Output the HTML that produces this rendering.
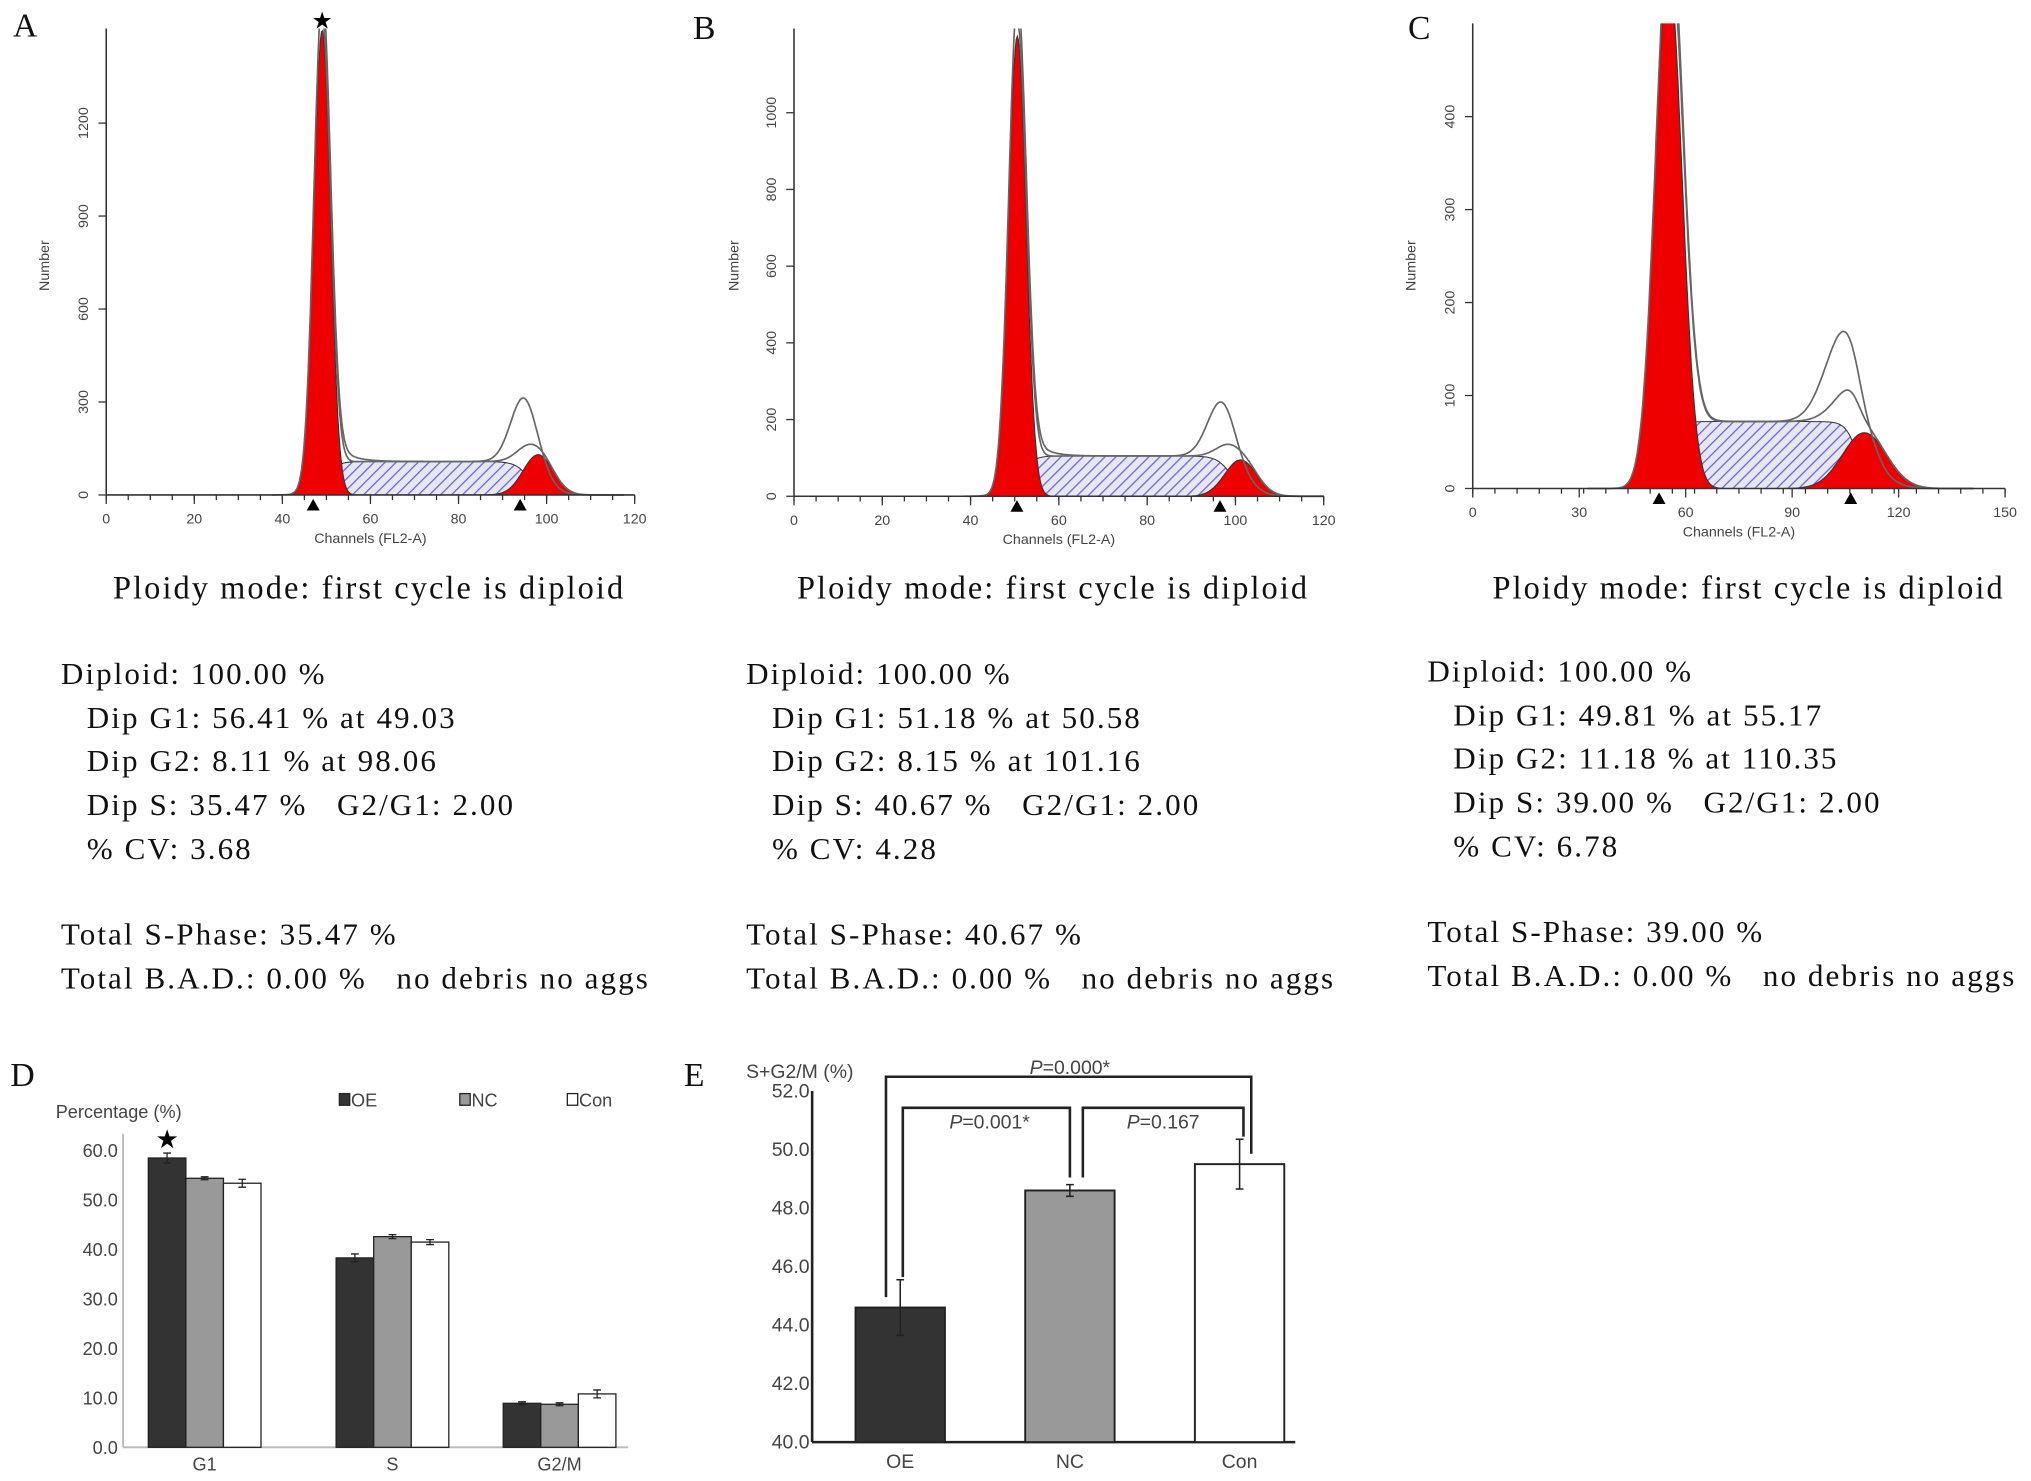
<!DOCTYPE html>
<html><head><meta charset="utf-8"><style>
html,body{margin:0;padding:0;background:#fff;}
svg{display:block;}
.ax{font-family:"Liberation Sans",sans-serif;fill:#444;}
.sr{font-family:"Liberation Serif",serif;fill:#111;}
.st{white-space:pre;letter-spacing:1.6px;}
</style></head><body>
<svg id="fig" width="2031" height="1481" viewBox="0 0 1568 1143" preserveAspectRatio="none" xmlns="http://www.w3.org/2000/svg">
<defs>
<pattern id="hatch" patternUnits="userSpaceOnUse" width="6" height="6" patternTransform="rotate(45)">
<rect width="6" height="6" fill="#e6e6f6"/><line x1="0" y1="0" x2="0" y2="6" stroke="#6a6ac8" stroke-width="2"/>
</pattern>
</defs>
<g id="root"></g>
</svg>
<script>
// ---- flow histogram fit parameters (panels A,B,C) ----
const panelIds = ['A','B','C'];
const g1Mean = [49.03, 50.58, 55.17];
const g1Height = [1500, 1200, 560];
const g1Sd = [1.9, 2.0, 3.8];
const g2Mean = [98.06, 101.16, 110.35];
const g2Height = [130, 95, 60];
const g2Sd = [3.4, 3.6, 6.2];
const sLevel = [108, 105, 72];
const rawG2Height = [280, 210, 135];
const rawG2Mean = [95, 97, 105];
const markerPos = [[47, 94], [50.5, 96.5], [52.5, 106.5]];
const yTicksABC = [[0,300,600,900,1200],[0,200,400,600,800,1000],[0,100,200,300,400]];
const xTicksABC = [[0,20,40,60,80,100,120],[0,20,40,60,80,100,120],[0,30,60,90,120,150]];
const statLines = [
 ['Diploid: 100.00 %','Dip G1: 56.41 % at 49.03','Dip G2: 8.11 % at 98.06','Dip S: 35.47 %   G2/G1: 2.00','% CV: 3.68','Total S-Phase: 35.47 %','Total B.A.D.: 0.00 %   no debris no aggs'],
 ['Diploid: 100.00 %','Dip G1: 51.18 % at 50.58','Dip G2: 8.15 % at 101.16','Dip S: 40.67 %   G2/G1: 2.00','% CV: 4.28','Total S-Phase: 40.67 %','Total B.A.D.: 0.00 %   no debris no aggs'],
 ['Diploid: 100.00 %','Dip G1: 49.81 % at 55.17','Dip G2: 11.18 % at 110.35','Dip S: 39.00 %   G2/G1: 2.00','% CV: 6.78','Total S-Phase: 39.00 %','Total B.A.D.: 0.00 %   no debris no aggs']
];
// ---- panel D ----
const dCategories = ['G1','S','G2/M'];
const dSeries = ['OE','NC','Con'];
const dOE = [58.5, 38.3, 8.9];
const dNC = [54.4, 42.6, 8.7];
const dCon = [53.4, 41.5, 10.8];
const dErrOE = [1.0, 0.8, 0.3];
const dErrNC = [0.3, 0.4, 0.3];
const dErrCon = [0.8, 0.5, 0.8];
const dTicks = [0,10,20,30,40,50,60];
// ---- panel E ----
const eCategories = ['OE','NC','Con'];
const eValues = [44.6, 48.6, 49.5];
const eErrors = [0.95, 0.2, 0.85];
const eTicks = [40,42,44,46,48,50,52];

const NS='http://www.w3.org/2000/svg';
const root=document.getElementById('root');
function mk(tag,attrs,parent,txt){const e=document.createElementNS(NS,tag);for(const k in attrs)e.setAttribute(k,attrs[k]);if(txt!==undefined)e.textContent=txt;(parent||root).appendChild(e);return e;}
const gauss=(v,m,h,s)=>h*Math.exp(-0.5*((v-m)/s)**2);
const sig=x=>1/(1+Math.exp(-x));

const geo=[
 {x0:82,xs:3.4,base:382,ys:71.75/300,xmax:120,top:22,lx:22,ly:28,ylab:38,cx:285,tx:47},
 {x0:613,xs:3.408,base:383,ys:0.296,xmax:120,top:22,lx:547,ly:30,ylab:570,cx:813,tx:576},
 {x0:1137,xs:2.74,base:377,ys:0.7175,xmax:150,top:18,lx:1099,ly:30,ylab:1093,cx:1350,tx:1102}
];
panelIds.forEach((id,i)=>{
 const G=geo[i];
 const g=mk('g',{});
 
 
 const X=v=>G.x0+v*G.xs, Y=c=>G.base-c*G.ys;
 const lab=mk('text',{x:G.lx-12,y:G.ly,class:'sr','font-size':26},g,id);
 
 
 const clipId='clip'+id;
 const cp=mk('clipPath',{id:clipId},g);mk('rect',{x:G.x0,y:G.top,width:G.xmax*G.xs,height:G.base-G.top+1},cp);
 const pg=mk('g',{'clip-path':'url(#'+clipId+')'},g);
 const sF=v=>sLevel[i]*sig((v-g1Mean[i]-1)/1.3)*sig((g2Mean[i]-2-v)/1.6);
 const g1F=v=>gauss(v,g1Mean[i],g1Height[i],g1Sd[i]);
 const g2F=v=>gauss(v,g2Mean[i],g2Height[i],g2Sd[i]);
 const lo=g1Mean[i]-6*g1Sd[i], hi=g2Mean[i]+4*g2Sd[i];
 function area(f,a,b,fill){let d='M'+X(a)+','+Y(0);for(let v=a;v<=b;v+=0.25)d+=' L'+X(v).toFixed(1)+','+Y(f(v)).toFixed(1);d+=' L'+X(b)+','+Y(0)+'Z';return mk('path',{d,fill,stroke:'#333','stroke-width':0.8},pg);}
 function line(f,a,b,col){let d='';for(let v=a;v<=b;v+=0.25)d+=(d?' L':'M')+X(v).toFixed(1)+','+Y(f(v)).toFixed(1);return mk('path',{d,fill:'none',stroke:col,'stroke-width':1.3},pg);}
 const sa=area(sF,lo,hi,'url(#hatch)');
 const a1=area(g1F,lo,g1Mean[i]+6*g1Sd[i],'#ee0000');
 const a2=area(g2F,g2Mean[i]-4*g2Sd[i],hi,'#ee0000');
 const tot=v=>g1F(v)+sF(v)+g2F(v);
 const t1=line(v=>tot(v)+0.06*g1Height[i]*Math.exp(-Math.max(0,v-g1Mean[i])/3)*sig((v-g1Mean[i])/1.5)*2,lo,hi+6,'#666');
 
 const t2=line(v=>g1F(v)+sF(v)+gauss(v,rawG2Mean[i],rawG2Height[i]-sLevel[i]*0.6,g2Sd[i]*0.9)*sig((g2Mean[i]+8-v)/2)+g2F(v)*0.3,g1Mean[i],hi+6,'#666');
 
 mk('line',{x1:G.x0,y1:G.base,x2:X(G.xmax),y2:G.base,stroke:'#333','stroke-width':1.2},g);
 mk('line',{x1:G.x0,y1:G.base,x2:G.x0,y2:G.top,stroke:'#333','stroke-width':1.2},g);
 for(let v=0;v<=G.xmax;v+=G.xmax/24)mk('line',{x1:X(v),y1:G.base,x2:X(v),y2:G.base+4,stroke:'#333'},g);
 xTicksABC[i].forEach(v=>{mk('line',{x1:X(v),y1:G.base,x2:X(v),y2:G.base+7,stroke:'#333'},g);mk('text',{x:X(v),y:G.base+22,class:'ax','font-size':11,'text-anchor':'middle'},g,v);});
 yTicksABC[i].forEach(v=>{mk('line',{x1:G.x0-6,y1:Y(v),x2:G.x0,y2:Y(v),stroke:'#333'},g);mk('text',{x:G.x0-14,y:Y(v),class:'ax','font-size':11,'text-anchor':'middle',transform:`rotate(-90 ${G.x0-14} ${Y(v)})`},g,v);});
 mk('text',{x:G.ylab,y:205,class:'ax','font-size':11,'text-anchor':'middle',transform:`rotate(-90 ${G.ylab} 205)`},g,'Number');
 mk('text',{x:X(G.xmax/2),y:G.base+37,class:'ax','font-size':11,'text-anchor':'middle'},g,'Channels (FL2-A)');
 markerPos[i].forEach(m=>mk('path',{d:`M${X(m)-5},${G.base+12} L${X(m)+5},${G.base+12} L${X(m)},${G.base+3}Z`,fill:'#000'},g));
 if(i===0)mk('text',{x:X(g1Mean[i]),y:22,'font-size':18,'text-anchor':'middle'},g,'★');
 const pm=mk('text',{x:G.cx,y:462,class:'sr st','font-size':25,'text-anchor':'middle'},g,'Ploidy mode: first cycle is diploid');
 
 const ys=[528,562,595,629,663,729,763];
 statLines[i].forEach((s,k)=>{const t=mk('text',{x:G.tx+((k>=1&&k<=4)?20:0),y:ys[k]+(i===2?-2:0),class:'sr st','font-size':24},g,s);});
});

// ---- Panel D ----
(function(){
 const g=mk('g',{});
 mk('text',{x:8,y:838,class:'sr','font-size':26},g,'D');
 const base=1117, top=888, Y=v=>base-(v/60)*(base-top), x0=95;
 mk('line',{x1:x0,y1:base,x2:485,y2:base,stroke:'#bbb','stroke-width':1.5},g);
 mk('line',{x1:x0,y1:base,x2:x0,y2:875,stroke:'#bbb','stroke-width':1.5},g);
 dTicks.forEach(v=>mk('text',{x:x0-4,y:Y(v)+5,class:'ax','font-size':14,'text-anchor':'end'},g,v.toFixed(1)));
 mk('text',{x:43,y:863,class:'ax','font-size':14},g,'Percentage (%)');
 const centers=[158,303,432], bw=29, fills=['#333','#999','#fff'];
 const vals=[dOE,dNC,dCon], errs=[dErrOE,dErrNC,dErrCon];
 dCategories.forEach((c,ci)=>{
  vals.forEach((arr,si)=>{
   const x=centers[ci]-1.5*bw+si*bw, v=arr[ci];
   const r=mk('rect',{x,y:Y(v),width:bw,height:base-Y(v),fill:fills[si],stroke:'#222','stroke-width':1},g);
   
   
   const e=errs[si][ci], cx=x+bw/2;
   mk('path',{d:`M${cx},${Y(v+e)} V${Y(v-e)} M${cx-3},${Y(v+e)} H${cx+3} M${cx-3},${Y(v-e)} H${cx+3}`,stroke:'#222','stroke-width':1},g);
  });
  mk('text',{x:centers[ci],y:1135,class:'ax','font-size':14,'text-anchor':'middle'},g,c);
 });
 mk('text',{x:centers[0]-bw,y:Y(dOE[0]+dErrOE[0])-4,'font-size':20,'text-anchor':'middle'},g,'★');
 const lx=[262,355,438];
 dSeries.forEach((s,si)=>{const lg=mk('g',{},g);
  mk('rect',{x:lx[si],y:844,width:8,height:9,fill:fills[si],stroke:'#222'},lg);mk('text',{x:lx[si]+9,y:854,class:'ax','font-size':14},lg,s);});
})();

// ---- Panel E ----
(function(){
 const g=mk('g',{});
 mk('text',{x:528,y:838,class:'sr','font-size':26},g,'E');
 const base=1113, top=842, lo=40, hi=52, Y=v=>base-(v-lo)/(hi-lo)*(base-top), x0=627;
 mk('line',{x1:x0,y1:base,x2:1000,y2:base,stroke:'#222','stroke-width':2},g);
 mk('line',{x1:x0,y1:base,x2:x0,y2:top,stroke:'#222','stroke-width':2},g);
 eTicks.forEach(v=>mk('text',{x:x0-2,y:Y(v)+5,class:'ax','font-size':15,'text-anchor':'end'},g,v.toFixed(1)));
 mk('text',{x:576,y:832,class:'ax','font-size':15},g,'S+G2/M (%)');
 const centers=[695,826,957], bw=69, fills=['#333','#999','#fff'];
 eCategories.forEach((c,i)=>{
  const v=eValues[i], e=eErrors[i], x=centers[i]-bw/2;
  const r=mk('rect',{x,y:Y(v),width:bw,height:base-Y(v),fill:fills[i],stroke:'#222','stroke-width':1.5},g);
  
  mk('path',{d:`M${centers[i]},${Y(v+e)} V${Y(v-e)} M${centers[i]-3},${Y(v+e)} H${centers[i]+3} M${centers[i]-3},${Y(v-e)} H${centers[i]+3}`,stroke:'#222','stroke-width':1.2},g);
  mk('text',{x:centers[i],y:1133,class:'ax','font-size':15,'text-anchor':'middle'},g,c);
 });
 function bracket(x1,x2,y,y1,y2,label,lx,ly){
  mk('path',{d:`M${x1},${y1} V${y} H${x2} V${y2}`,fill:'none',stroke:'#222','stroke-width':2},g);
  const t=mk('text',{x:lx,y:ly,class:'ax','font-size':15,'text-anchor':'middle'},g);
  mk('tspan',{'font-style':'italic'},t,'P');mk('tspan',{},t,label);
  
 }
 bracket(684,966,831,Y(eValues[0])-8,Y(eValues[2])-8,'=0.000*',826,829);
 bracket(697,826,855,Y(eValues[0]+eErrors[0])-2,Y(eValues[1])-10,'=0.001*',764,871);
 bracket(836,960,855,Y(eValues[1])-10,Y(eValues[2]+eErrors[2])-2,'=0.167',898,871);
})();
</script>
</body></html>
